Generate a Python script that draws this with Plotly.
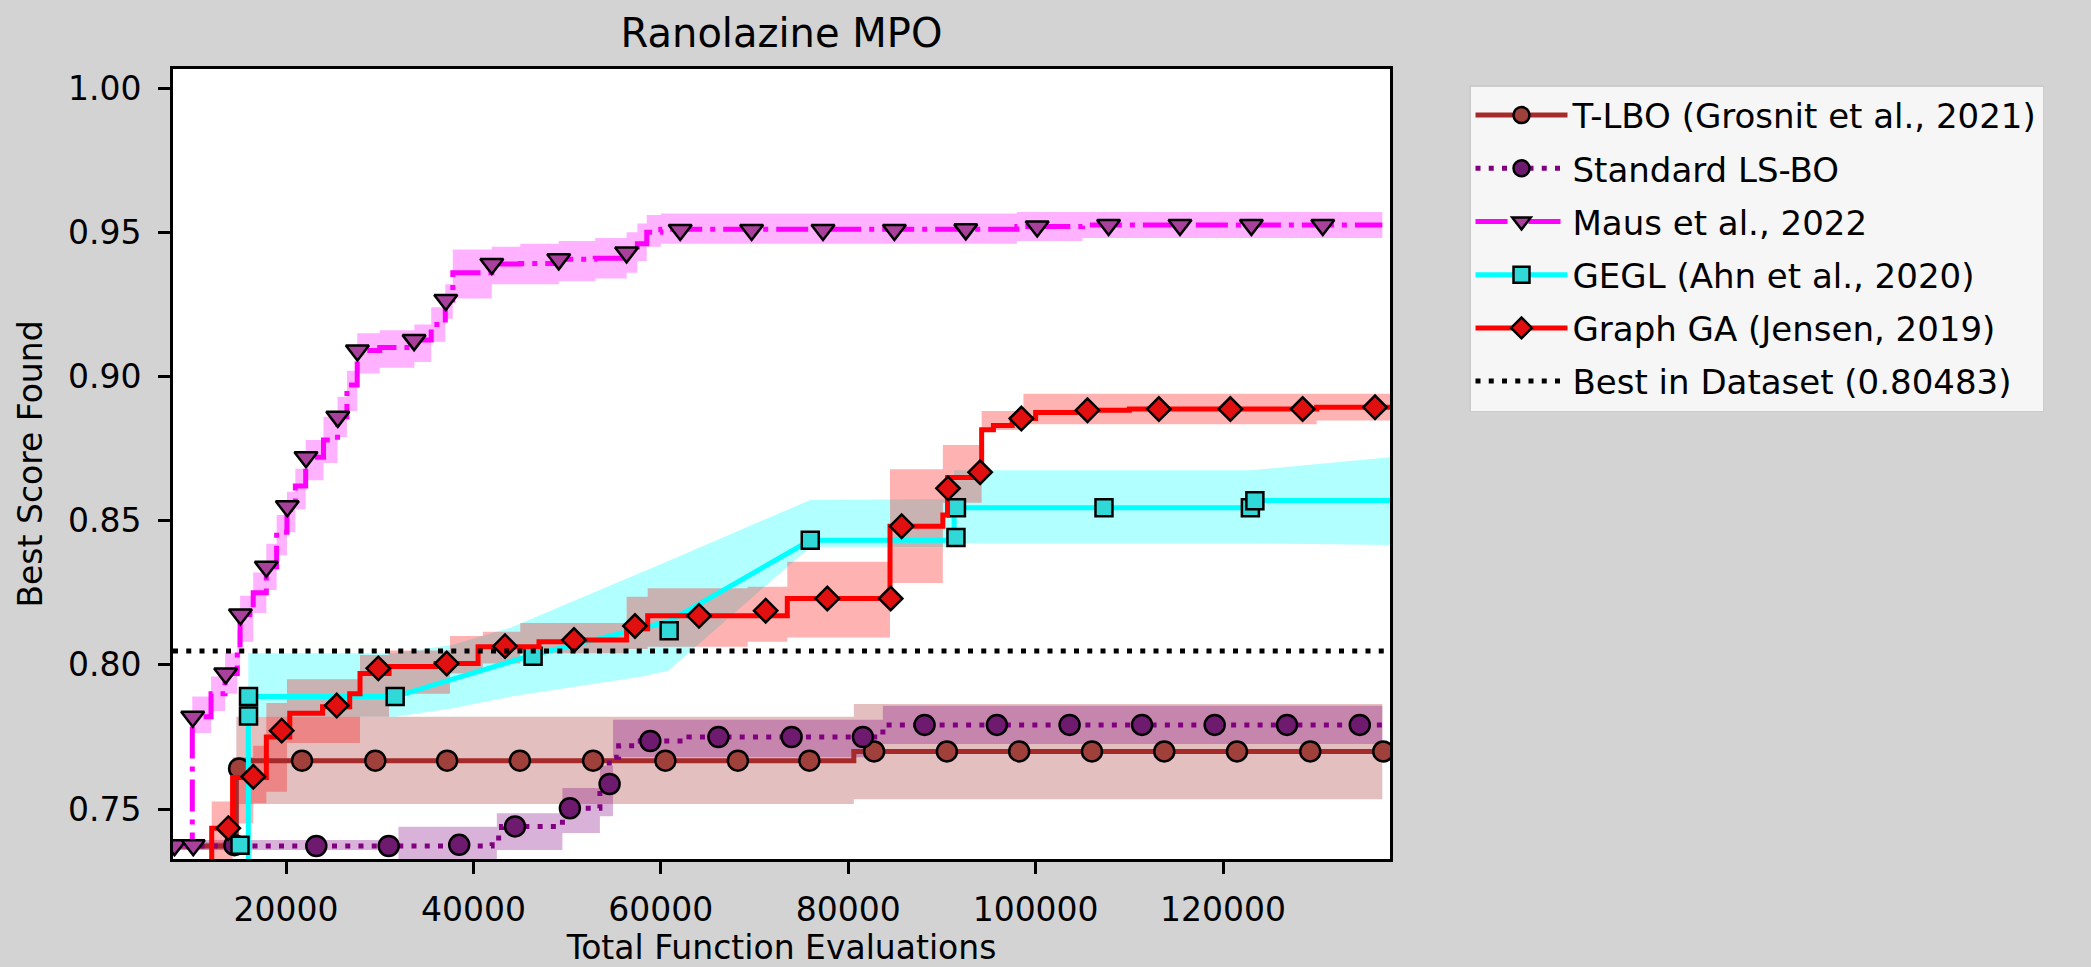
import plotly.graph_objects as go

# ---------------- axes ----------------
x_range = [7940, 137820]
y_range = [0.7327, 1.0066]
x_ticks = [20000, 40000, 60000, 80000, 100000, 120000]
x_tick_labels = ["20000", "40000", "60000", "80000", "100000", "120000"]
y_ticks = [0.75, 0.80, 0.85, 0.90, 0.95, 1.00]
y_tick_labels = ["0.75", "0.80", "0.85", "0.90", "0.95", "1.00"]

best_in_dataset = 0.80483

# ---------------- T-LBO (Grosnit et al., 2021) ----------------
tlbo_x = [7940, 14500, 14700, 15500, 80600, 137000]
tlbo_y = [0.7372, 0.7372, 0.7645, 0.7668, 0.7700, 0.7700]
tlbo_band_x = [7940, 14700, 80600, 137000]
tlbo_lo = [0.7360, 0.7518, 0.7534, 0.7534]
tlbo_hi = [0.7385, 0.7820, 0.7864, 0.7864]
tlbo_mx = [14995, 21708, 29530, 37193, 44961, 52774, 60489, 68226, 75857,
           82760, 90530, 98244, 106013, 113729, 121488, 129310, 137100]
tlbo_my = [0.7641, 0.7668, 0.7668, 0.7668, 0.7668, 0.7668, 0.7668, 0.7668, 0.7668,
           0.7700, 0.7700, 0.7700, 0.7700, 0.7700, 0.7700, 0.7700, 0.7700]

# ---------------- Standard LS-BO ----------------
lsbo_x = [7940, 42000, 43000, 49500, 53500, 54500, 55500, 57500, 63000, 83700, 137000]
lsbo_y = [0.7372, 0.7400, 0.7440, 0.7503, 0.7587, 0.7680, 0.7720, 0.7736, 0.7750, 0.7792, 0.7792]
lsbo_band_x = [7940, 32000, 42500, 49500, 53500, 54900, 83700, 137000]
lsbo_lo = [0.7358, 0.7300, 0.7358, 0.7417, 0.7475, 0.7680, 0.7726, 0.7726]
lsbo_hi = [0.7393, 0.7439, 0.7486, 0.7573, 0.7650, 0.7810, 0.7858, 0.7858]
lsbo_mx = [14500, 23234, 30963, 38484, 44440, 50297, 54535, 58878, 66150, 73960, 81566,
           88150, 95867, 103628, 111353, 119110, 126829, 134597]
lsbo_my = [0.7375, 0.7372, 0.7372, 0.7376, 0.7440, 0.7503, 0.7587, 0.7736, 0.7750, 0.7750, 0.7750,
           0.7792, 0.7792, 0.7792, 0.7792, 0.7792, 0.7792, 0.7792]

# ---------------- Maus et al., 2022 ----------------
maus_x = [7940, 10000, 12000, 13500, 14800, 15100, 16500, 17900, 19000, 20100, 21000,
          22100, 24000, 25500, 26500, 27600, 30000, 33700, 35500, 37000, 37800, 41960,
          45000, 49100, 53000, 56350, 57500, 58500, 60000, 98000, 105000, 137000]
maus_y = [0.7375, 0.7820, 0.7900, 0.7970, 0.8050, 0.8175, 0.8250, 0.8340, 0.8460, 0.8540, 0.8620,
          0.8720, 0.8780, 0.8860, 0.8970, 0.9090, 0.9100, 0.9126, 0.9180, 0.9265, 0.9360, 0.9390,
          0.9392, 0.9406, 0.9410, 0.9430, 0.9460, 0.9500, 0.9510, 0.9520, 0.9525, 0.9525]
maus_lo = [0.7360, 0.7764, 0.7840, 0.7900, 0.7980, 0.8080, 0.8180, 0.8260, 0.8380, 0.8460, 0.8540,
           0.8640, 0.8700, 0.8790, 0.8880, 0.9010, 0.9030, 0.9050, 0.9120, 0.9200, 0.9270, 0.9320,
           0.9320, 0.9330, 0.9340, 0.9360, 0.9400, 0.9450, 0.9460, 0.9470, 0.9480, 0.9485]
maus_hi = [0.7395, 0.7890, 0.7960, 0.8040, 0.8120, 0.8240, 0.8320, 0.8420, 0.8520, 0.8600, 0.8680,
           0.8780, 0.8860, 0.8930, 0.9020, 0.9150, 0.9160, 0.9180, 0.9240, 0.9320, 0.9440, 0.9450,
           0.9460, 0.9470, 0.9480, 0.9500, 0.9530, 0.9560, 0.9565, 0.9570, 0.9570, 0.9565]
maus_mx = [8100, 10100, 10043, 13565, 15134, 17898, 20139, 22134, 25528, 27620, 33670, 37054,
           41963, 49108, 56349, 62070, 69690, 77309, 84929, 92548, 100168, 107787, 115407,
           123026, 130646]
maus_my = [0.7375, 0.7375, 0.7820, 0.7970, 0.8175, 0.8340, 0.8550, 0.8720, 0.8860, 0.9090, 0.9126, 0.9265,
           0.9390, 0.9406, 0.9430, 0.9508, 0.9508, 0.9508, 0.9508, 0.9510, 0.9520, 0.9525, 0.9525,
           0.9525, 0.9525]

# ---------------- GEGL (Ahn et al., 2020) ----------------
gegl_x = [15977, 15977, 31650, 46370, 60800, 75950, 91300, 91300, 123000, 123400, 137820]
gegl_y = [0.7000, 0.7890, 0.7890, 0.8035, 0.8150, 0.8432, 0.8432, 0.8545, 0.8545, 0.8570, 0.8570]
gegl_band_x = [15977, 15977, 31650, 37800, 44000, 58000, 60800, 75950, 91300, 91300, 123000, 137820]
gegl_lo = [0.7000, 0.7820, 0.7820, 0.7850, 0.7890, 0.7960, 0.7980, 0.8409, 0.8409, 0.8422, 0.8422, 0.8416]
gegl_hi = [0.7000, 0.8040, 0.8040, 0.8070, 0.8130, 0.8320, 0.8360, 0.8572, 0.8575, 0.8675, 0.8675, 0.8720]
gegl_mx = [15091, 16000, 16000, 31650, 46370, 60890, 75950, 91500, 91550, 107297, 122920, 123400]
gegl_my = [0.7375, 0.7823, 0.7890, 0.7890, 0.8030, 0.8118, 0.8432, 0.8442, 0.8545, 0.8545, 0.8545, 0.8569]

# ---------------- Graph GA (Jensen, 2019) ----------------
ga_x = [7940, 12070, 14300, 17900, 20400, 23900, 26800, 27900, 31000, 36000, 40500, 47000,
        50000, 56350, 58600, 73500, 84460, 90100, 90600, 94240, 95500, 97500, 100000,
        105000, 110000, 130000, 137820]
ga_y = [0.7250, 0.7434, 0.7610, 0.7750, 0.7832, 0.7855, 0.7900, 0.7970, 0.7994, 0.8005, 0.8063, 0.8080,
        0.8086, 0.8125, 0.8170, 0.8230, 0.8481, 0.8520, 0.8650, 0.8815, 0.8830, 0.8854, 0.8875,
        0.8883, 0.8887, 0.8893, 0.8893]
ga_band_x = [7940, 12070, 14300, 16500, 17900, 20100, 27900, 31000, 37500, 41000, 45000, 56350,
             58600, 69270, 73500, 84460, 90100, 94240, 98700, 130000, 137820]
ga_lo = [0.7100, 0.7280, 0.7450, 0.7520, 0.7560, 0.7729, 0.7820, 0.7900, 0.7970, 0.8005, 0.8040, 0.8055,
         0.8063, 0.8080, 0.8095, 0.8284, 0.8562, 0.8814, 0.8834, 0.8847, 0.8847]
ga_hi = [0.7300, 0.7526, 0.7680, 0.7720, 0.7868, 0.7950, 0.8034, 0.8050, 0.8100, 0.8115, 0.8145, 0.8236,
         0.8266, 0.8271, 0.8358, 0.8678, 0.8762, 0.8880, 0.8940, 0.8940, 0.8940]
ga_mx = [13842, 16510, 19540, 25410, 29850, 37150, 43372, 50736, 57245, 64075, 71193, 77767,
         84530, 85704, 90650, 94080, 98478, 105532, 113152, 120782, 128498, 136224]
ga_my = [0.7434, 0.7612, 0.7772, 0.7859, 0.7988, 0.8005, 0.8065, 0.8086, 0.8135, 0.8170, 0.8188, 0.8230,
         0.8230, 0.8481, 0.8612, 0.8668, 0.8854, 0.8883, 0.8887, 0.8887, 0.8887, 0.8893]

# ---------------- styles ----------------
DOT = "5px,8.25px"
DASHDOT = "32px,8px,5px,8px"
LW = 5

series = [
    dict(name="T-LBO (Grosnit et al., 2021)", color="#a52a2a", face="#a0403a", fill="rgba(165,42,42,0.3)",
         dash="solid", shape="hv", symbol="circle", size=20,
         x=tlbo_x, y=tlbo_y, bx=tlbo_band_x, lo=tlbo_lo, hi=tlbo_hi, mx=tlbo_mx, my=tlbo_my),
    dict(name="Standard LS-BO", color="#800080", face="#6e1a6e", fill="rgba(128,0,128,0.3)",
         dash=DOT, shape="hv", symbol="circle", size=20,
         x=lsbo_x, y=lsbo_y, bx=lsbo_band_x, lo=lsbo_lo, hi=lsbo_hi, mx=lsbo_mx, my=lsbo_my),
    dict(name="Maus et al., 2022", color="#ff00ff", face="#a8409c", fill="rgba(255,0,255,0.3)",
         dash=DASHDOT, shape="hv", symbol="triangle-down", size=20,
         x=maus_x, y=maus_y, bx=maus_x, lo=maus_lo, hi=maus_hi, mx=maus_mx, my=maus_my),
    dict(name="GEGL (Ahn et al., 2020)", color="#00ffff", face="#30d8d8", fill="rgba(0,255,255,0.3)",
         dash="solid", shape="linear", symbol="square", size=17,
         x=gegl_x, y=gegl_y, bx=gegl_band_x, lo=gegl_lo, hi=gegl_hi, mx=gegl_mx, my=gegl_my),
    dict(name="Graph GA (Jensen, 2019)", color="#ff0000", face="#e01010", fill="rgba(255,0,0,0.3)",
         dash="solid", shape="hv", symbol="diamond", size=18,
         x=ga_x, y=ga_y, bx=ga_band_x, lo=ga_lo, hi=ga_hi, mx=ga_mx, my=ga_my),
]

fig = go.Figure()

# bands
for s in series:
    fig.add_trace(go.Scatter(x=s["bx"], y=s["lo"], mode="lines", line=dict(width=0, shape=s["shape"]),
                             showlegend=False, hoverinfo="skip"))
    fig.add_trace(go.Scatter(x=s["bx"], y=s["hi"], mode="lines", line=dict(width=0, shape=s["shape"]),
                             fill="tonexty", fillcolor=s["fill"], showlegend=False, hoverinfo="skip"))

# mean lines + markers
for s in series:
    fig.add_trace(go.Scatter(x=s["x"], y=s["y"], mode="lines",
                             line=dict(color=s["color"], width=LW, dash=s["dash"], shape=s["shape"]),
                             showlegend=False, hoverinfo="skip"))
    fig.add_trace(go.Scatter(x=s["mx"], y=s["my"], mode="markers",
                             marker=dict(symbol=s["symbol"], size=s["size"], color=s["face"],
                                         line=dict(color="black", width=2.5)),
                             showlegend=False, hoverinfo="skip"))

# best in dataset
fig.add_trace(go.Scatter(x=x_range, y=[best_in_dataset, best_in_dataset], mode="lines",
                         line=dict(color="black", width=LW, dash=DOT), showlegend=False, hoverinfo="skip"))

# legend entries
for i, s in enumerate(series):
    fig.add_trace(go.Scatter(x=[None], y=[None], mode="lines+markers", name=s["name"], legendgroup=f"g{i}",
                             line=dict(color=s["color"], width=LW, dash=s["dash"]),
                             marker=dict(symbol=s["symbol"], size=s["size"], color=s["face"],
                                         line=dict(color="black", width=2.5))))
fig.add_trace(go.Scatter(x=[None], y=[None], mode="lines", name="Best in Dataset (0.80483)", legendgroup="g5",
                         line=dict(color="black", width=LW, dash=DOT)))

axis_common = dict(showline=True, linecolor="black", linewidth=2.7, mirror=True, ticks="outside",
                   ticklen=12, tickwidth=2.7, tickcolor="black", showgrid=False, zeroline=False,
                   tickfont=dict(size=33, color="black", family="DejaVu Sans"))

fig.update_layout(
    width=2091, height=967,
    paper_bgcolor="#d3d3d3", plot_bgcolor="white",
    margin=dict(l=173, r=701, t=69, b=108, autoexpand=False),
    font=dict(family="DejaVu Sans", size=33, color="black"),
    title=dict(text="Ranolazine MPO", x=0.5, xref="paper", xanchor="center",
               y=1 - 33 / 967, yref="container", yanchor="middle",
               font=dict(size=40, color="black", family="DejaVu Sans")),
    xaxis=dict(range=x_range, tickvals=x_ticks, ticktext=x_tick_labels, ticklabelstandoff=8,
               title=dict(text="Total Function Evaluations", standoff=11,
                          font=dict(size=33, color="black", family="DejaVu Sans")),
               **axis_common),
    yaxis=dict(range=y_range, tickvals=y_ticks, ticktext=y_tick_labels, ticklabelstandoff=10,
               title=dict(text="Best Score Found", standoff=16,
                          font=dict(size=33, color="black", family="DejaVu Sans")),
               **axis_common),
    legend=dict(x=(1469 - 173) / 1217, y=(859 - 85) / 790, xanchor="left", yanchor="top",
                bgcolor="#f6f6f6", bordercolor="#cccccc", borderwidth=1.5,
                font=dict(size=34, color="black", family="DejaVu Sans"),
                itemwidth=92, traceorder="grouped", tracegroupgap=6),
    showlegend=True,
)

fig.write_html("out.html")
